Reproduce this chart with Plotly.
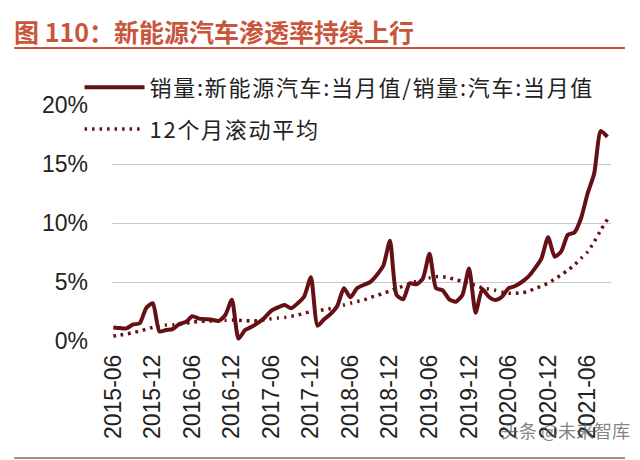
import pandas as pd
import plotly.graph_objects as go

# ---- data ----
months = [d.strftime("%Y-%m") for d in pd.date_range("2015-06-01", "2021-09-01", freq="MS")]

penetration = [
    1.15, 1.1, 1.07, 1.4, 1.5, 2.8, 3.2, 0.8, 0.93, 1.0, 1.44, 1.6,
    2.1, 1.9, 1.85, 1.8, 1.7, 2.2, 3.5, 0.2, 0.93, 1.2, 1.55, 2.0,
    2.57, 2.85, 3.05, 2.77, 3.2, 3.8, 5.4, 1.3, 1.84, 2.3, 2.97, 4.47,
    3.7, 4.47, 4.75, 5.0, 5.6, 6.4, 8.5, 3.9, 3.53, 4.9, 4.8, 5.3,
    7.4, 4.47, 4.3, 3.53, 3.33, 3.9, 6.15, 2.4, 4.4, 3.75, 3.47, 3.75,
    4.47, 4.66, 5.0, 5.45, 6.15, 7.0, 8.8, 7.15, 7.6, 9.0, 9.2, 10.4,
    12.5, 14.2, 17.8, 17.3,
]

rolling12 = [
    0.42, 0.5, 0.6, 0.7, 0.85, 1.0, 1.15, 1.25, 1.35, 1.36, 1.4, 1.5,
    1.6, 1.65, 1.68, 1.7, 1.72, 1.75, 1.78, 1.76, 1.72, 1.7, 1.72, 1.8,
    1.88, 1.95, 2.0, 2.1, 2.2, 2.35, 2.5, 2.55, 2.65, 2.75, 2.9, 3.05,
    3.2, 3.35, 3.47, 3.7, 3.85, 4.05, 4.24, 4.45, 4.65, 4.85, 5.05, 5.25,
    5.35, 5.45, 5.45, 5.35, 5.2, 5.05, 4.9, 4.7, 4.5, 4.4, 4.3, 4.15,
    4.05, 4.05, 4.1, 4.2, 4.45, 4.65, 4.9, 5.25, 5.6, 6.0, 6.45, 7.0,
    7.55, 8.4, 9.4, 10.3,
]

x_ticks = ["2015-06", "2015-12", "2016-06", "2016-12", "2017-06", "2017-12",
           "2018-06", "2018-12", "2019-06", "2019-12", "2020-06", "2020-12", "2021-06"]
y_ticks = [0, 5, 10, 15, 20]
y_ticktext = ["0%", "5%", "10%", "15%", "20%"]

series_name = "销量:新能源汽车:当月值/销量:汽车:当月值"
avg_name = "12个月滚动平均"
title_text = "图 110：新能源汽车渗透率持续上行"

LINE = "#66101500"[:7]
ACCENT = "#c9553b"
CJK = "Noto Sans CJK SC"
LAT = "Liberation Sans, Arial"


def spaced(s):
    return '<span style="letter-spacing:1.7px">' + s + '</span>'


fig = go.Figure()
fig.add_trace(go.Scatter(
    x=months, y=penetration, mode="lines", name=spaced(series_name),
    line=dict(color=LINE, width=4, shape="spline", smoothing=0.6),
    legendgroup="a",
))
fig.add_trace(go.Scatter(
    x=months, y=rolling12, mode="lines", name=spaced(avg_name),
    line=dict(color=LINE, width=3.5, dash="2.5px,5px", shape="spline", smoothing=0.6),
    legendgroup="b",
))

fig.update_layout(
    width=640, height=460,
    margin=dict(l=112, r=29, t=105, b=119),
    paper_bgcolor="white", plot_bgcolor="white",
    title=dict(text=title_text, x=14 / 640, xanchor="left", xref="container",
               y=1 - 33 / 460, yanchor="middle", yref="container",
               font=dict(family=CJK, size=25, color=ACCENT, weight="bold")),
    showlegend=True,
    legend=dict(x=-0.065, xanchor="left", y=1.163, yanchor="top",
                font=dict(family=CJK, size=22, color="#222222"),
                bgcolor="rgba(0,0,0,0)", tracegroupgap=10, itemwidth=60),
    xaxis=dict(type="category", range=[-0.2, 75.55], tickmode="array",
               tickvals=x_ticks, ticktext=x_ticks, tickangle=-90,
               showgrid=False, showline=False, zeroline=False, ticks="",
               ticklabelstandoff=8,
               tickfont=dict(family=LAT, size=23, color="#222222")),
    yaxis=dict(range=[0, 20], tickmode="array", tickvals=y_ticks, ticktext=y_ticktext,
               showgrid=True, gridcolor="#c8c8c8", gridwidth=1, zeroline=False,
               showline=False, ticks="", ticklabelstandoff=23,
               tickfont=dict(family=LAT, size=23, color="#222222")),
    shapes=[
        dict(type="line", xref="paper", yref="paper", x0=-0.196, x1=1.028,
             y0=(341 - 48) / 236, y1=(341 - 48) / 236, line=dict(color=ACCENT, width=2)),
        dict(type="line", xref="paper", yref="paper", x0=-0.196, x1=1.028,
             y0=(341 - 458) / 236, y1=(341 - 458) / 236, line=dict(color="#a08c80", width=2)),
    ],
    annotations=[
        dict(text="头条 @未来智库", xref="paper", yref="paper", x=(565 - 112) / 499,
             y=(341 - 430) / 236, showarrow=False, xanchor="center", yanchor="middle",
             font=dict(family=CJK, size=18, color="rgba(90,90,90,0.75)")),
    ],
)

fig.write_html("out.html")
